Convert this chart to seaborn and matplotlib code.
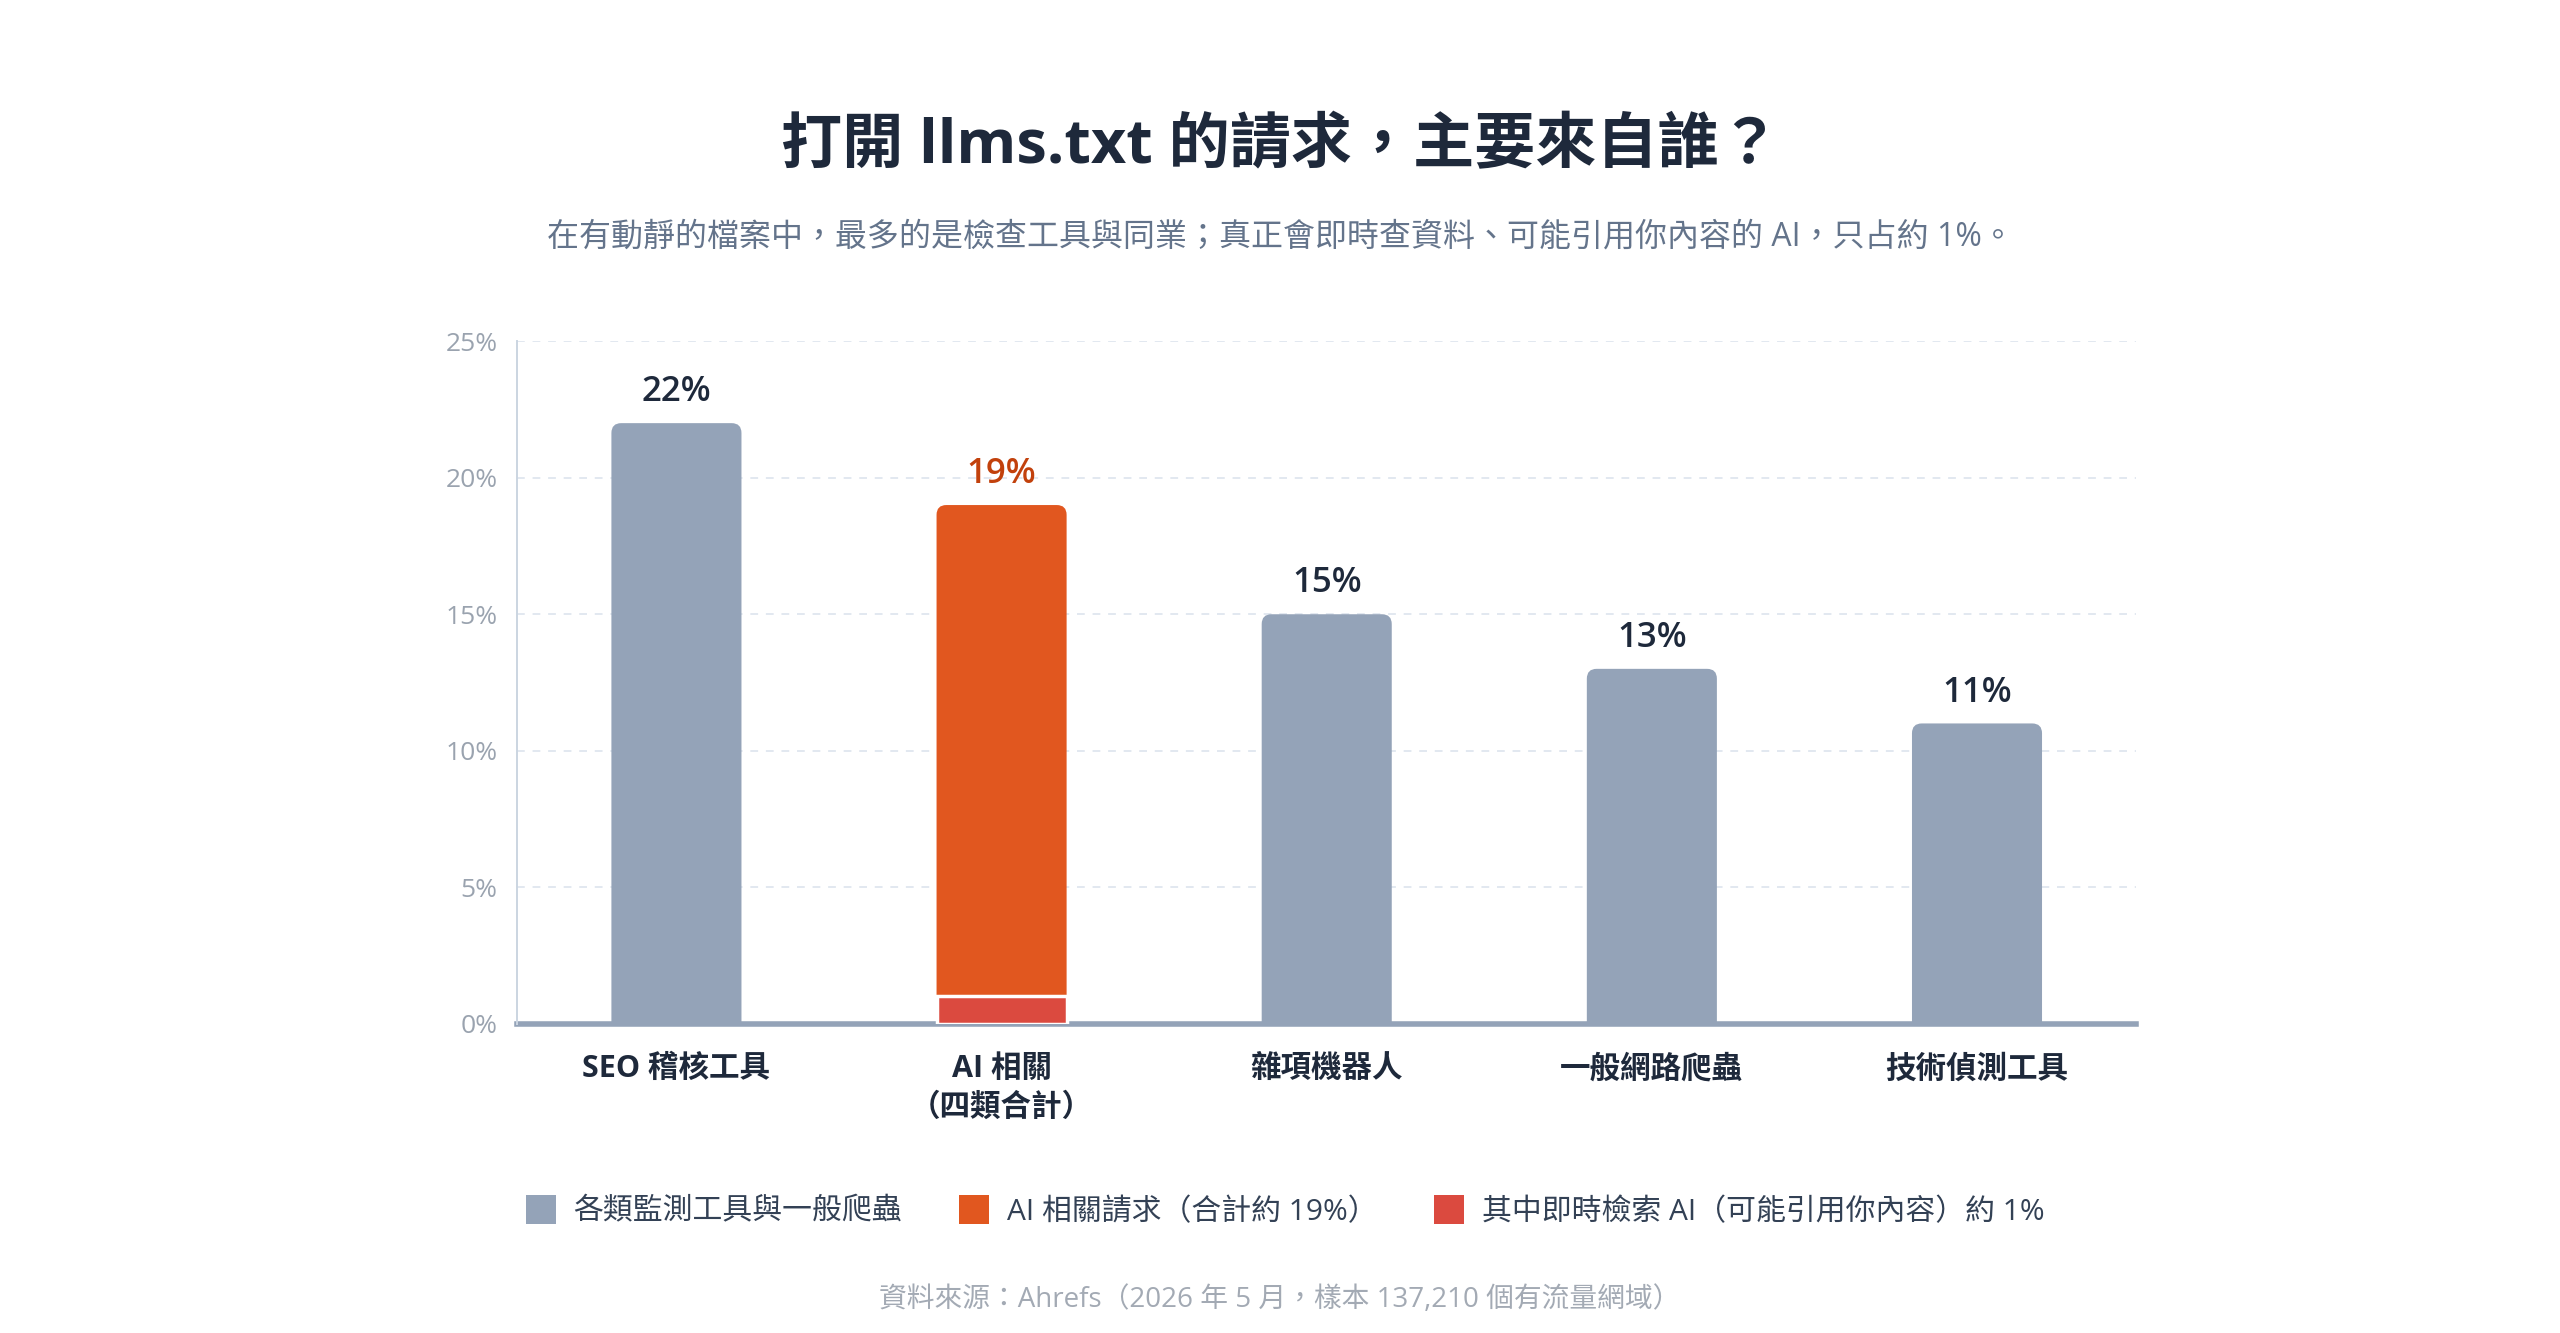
"""Recreate the llms.txt request source bar chart with seaborn."""

import matplotlib
matplotlib.use("Agg")

import matplotlib.pyplot as plt
import pandas as pd
import seaborn as sns
from matplotlib.patches import Patch, PathPatch
from matplotlib.path import Path


TITLE = "打開 llms.txt 的請求，主要來自誰？"
SUBTITLE = "在有動靜的檔案中，最多的是檢查工具與同業；真正會即時查資料、可能引用你內容的 AI，只占約 1%。"
SOURCE = "資料來源：Ahrefs（2026 年 5 月，樣本 137,210 個有流量網域）"

categories = ["SEO 稽核工具", "AI 相關\n（四類合計）", "雜項機器人", "一般網路爬蟲", "技術偵測工具"]
shares = [22, 19, 15, 13, 11]
groups = ["other", "ai", "other", "other", "other"]
realtime_ai_share = 1
yticks = [0, 5, 10, 15, 20, 25]

legend_labels = [
    "各類監測工具與一般爬蟲",
    "AI 相關請求（合計約 19%）",
    "其中即時檢索 AI（可能引用你內容）約 1%",
]

GRAY = "#94a3b8"
ORANGE = "#e1571f"
RED = "#db4a3f"
DARK = "#1e293b"
FONTS = ["Open Sans", "Noto Sans CJK TC", "DejaVu Sans"]


def round_top(ax, patch, color, rx=0.03, ry=0.36):
    """Swap a bar rectangle for a path with rounded top corners."""
    x, y = patch.get_x(), patch.get_y()
    w, h = patch.get_width(), patch.get_height()
    patch.set_visible(False)
    verts = [
        (x, y), (x + w, y), (x + w, y + h - ry),
        (x + w, y + h), (x + w - rx, y + h),
        (x + rx, y + h),
        (x, y + h), (x, y + h - ry),
        (x, y),
    ]
    codes = [
        Path.MOVETO, Path.LINETO, Path.LINETO,
        Path.CURVE3, Path.CURVE3,
        Path.LINETO,
        Path.CURVE3, Path.CURVE3,
        Path.CLOSEPOLY,
    ]
    ax.add_patch(PathPatch(Path(verts, codes), facecolor=color, edgecolor="none", zorder=3))


def main():
    sns.set_theme(style="white")
    plt.rcParams["font.family"] = FONTS

    df = pd.DataFrame({"category": categories, "share": shares, "group": groups})

    fig = plt.figure(figsize=(25.6, 13.33), dpi=100)
    ax = fig.add_axes([0.202, 0.232, 0.6325, 0.512])

    sns.barplot(
        data=df, x="category", y="share", hue="group",
        palette={"other": GRAY, "ai": ORANGE}, dodge=False,
        width=0.4, legend=False, ax=ax, zorder=3,
    )

    colors = [ORANGE if g == "ai" else GRAY for g in groups]
    bars = sorted([p for p in ax.patches if p.get_height() > 0], key=lambda p: p.get_x())
    for patch, color in zip(bars, colors):
        round_top(ax, patch, color)

    ai_idx = groups.index("ai")
    ai_bar = bars[ai_idx]
    ax.bar(
        ai_bar.get_x() + ai_bar.get_width() / 2, realtime_ai_share,
        width=ai_bar.get_width(), color=RED, edgecolor="white",
        linewidth=2.5, zorder=5,
    )

    for i, value in enumerate(shares):
        ax.annotate(
            f"{value}%", (i, value), xytext=(0, 10), textcoords="offset points",
            ha="center", va="bottom", fontsize=25, fontweight="semibold",
            color="#c2410c" if groups[i] == "ai" else DARK,
        )

    ax.set_xlim(-0.49, 4.49)
    ax.set_ylim(0, 25)
    ax.set_yticks(yticks)
    ax.set_yticklabels([f"{t}%" for t in yticks])
    ax.set_xlabel("")
    ax.set_ylabel("")
    ax.tick_params(axis="y", length=0, pad=14, labelsize=19, labelcolor="#9aa3af")
    ax.tick_params(axis="x", length=0, pad=22, labelsize=22)
    for label in ax.get_xticklabels():
        label.set_fontweight("bold")
        label.set_color(DARK)
        label.set_linespacing(1.35)
        label.set_va("top")

    ax.yaxis.grid(True, linestyle=(0, (4, 4)), color="#e2e8f0", linewidth=1.4, zorder=0)
    ax.set_axisbelow(True)
    for side in ["top", "right"]:
        ax.spines[side].set_visible(False)
    ax.spines["left"].set_color("#cbd5e1")
    ax.spines["left"].set_linewidth(1.4)
    ax.spines["bottom"].set_color(GRAY)
    ax.spines["bottom"].set_linewidth(4)
    ax.spines["bottom"].set_zorder(2)

    fig.text(0.5, 0.889, TITLE, ha="center", va="center", fontsize=44,
             fontweight="bold", color=DARK)
    fig.text(0.5, 0.822, SUBTITLE, ha="center", va="center", fontsize=23,
             color="#64748b")
    fig.text(0.5, 0.025, SOURCE, ha="center", va="center", fontsize=20,
             color="#a3aab4")

    handles = [Patch(facecolor=c, edgecolor="none") for c in [GRAY, ORANGE, RED]]
    fig.legend(
        handles, legend_labels, loc="center", bbox_to_anchor=(0.502, 0.0915),
        ncol=3, frameon=False, fontsize=21.5, handlelength=1.0, handleheight=1.1,
        handletextpad=0.6, columnspacing=1.9, labelcolor="#334155",
    )

    fig.savefig("out.png", dpi=100, facecolor="white")
    plt.close(fig)


if __name__ == "__main__":
    main()
